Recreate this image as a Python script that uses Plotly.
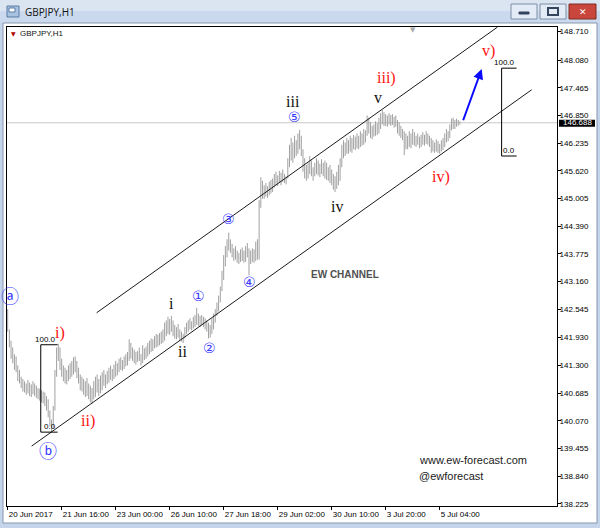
import plotly.graph_objects as go

# ---------------- data ----------------
bar_high = [
    142.55, 142.10, 141.85, 141.70, 141.55, 141.50, 141.30, 141.20, 141.05, 141.00,
    140.95, 140.90, 140.98, 140.92, 140.88, 140.95, 140.90, 140.85, 140.80, 140.78,
    140.75, 140.72, 140.70, 140.62, 140.55, 140.30, 140.10, 140.40, 141.20, 141.70,
    141.78, 141.70, 141.45, 141.30, 141.25, 141.20, 141.30, 141.35, 141.40, 141.48,
    141.50, 141.40, 141.25, 141.10, 141.05, 141.00, 140.95, 141.02, 140.90, 140.85,
    140.80, 140.95, 141.05, 141.10, 141.00, 141.08, 141.15, 141.20, 141.10, 141.18,
    141.25, 141.30, 141.22, 141.32, 141.40, 141.35, 141.45, 141.48, 141.42, 141.50,
    141.55, 141.60, 141.88, 141.80, 141.70, 141.65, 141.60, 141.62, 141.70, 141.55,
    141.75, 141.68, 141.72, 141.80, 141.85, 141.90, 141.88, 141.95, 142.00, 141.98,
    142.02, 142.05, 142.10, 142.25, 142.30, 142.38, 142.33, 142.40, 142.30, 142.20,
    142.15, 142.22, 142.10, 142.05, 142.00, 142.15, 142.25, 142.30, 142.35, 142.28,
    142.38, 142.42, 142.58, 142.45, 142.40, 142.42, 142.38, 142.35, 142.30, 142.25,
    142.20, 142.35, 142.45, 142.55, 142.70, 142.85, 143.05, 143.40, 143.75, 143.95,
    144.10, 144.25, 144.10, 144.00, 143.90, 143.95, 143.85, 143.80, 143.88, 143.92,
    143.85, 143.95, 144.02, 143.90, 143.85, 143.90, 143.88, 144.05, 144.10, 144.97,
    145.48, 145.40, 145.30, 145.35, 145.28, 145.38, 145.42, 145.45, 145.55, 145.60,
    145.52, 145.62, 145.58, 145.65, 145.55, 145.50, 145.90, 146.20, 146.35, 146.25,
    146.40, 146.30, 146.45, 146.53, 146.40, 146.10, 145.90, 145.75, 145.80, 145.95,
    145.85, 145.70, 145.80, 145.90, 145.85, 145.78, 145.88, 145.80, 145.85, 145.80,
    145.70, 145.75, 145.65, 145.55, 145.50, 145.60, 145.75, 145.90, 146.20, 146.30,
    146.25, 146.35, 146.30, 146.40, 146.35, 146.42, 146.38, 146.45, 146.40, 146.50,
    146.45, 146.55, 146.52, 146.85, 146.80, 146.70, 146.62, 146.65, 146.72, 146.68,
    146.80, 146.90, 146.97, 146.92, 146.88, 146.85, 146.90, 146.86, 146.88, 146.82,
    146.85, 146.75, 146.70, 146.62, 146.55, 146.50, 146.45, 146.40, 146.50, 146.45,
    146.55, 146.48, 146.40, 146.45, 146.38, 146.42, 146.48, 146.42, 146.50, 146.45,
    146.40, 146.35, 146.30, 146.25, 146.32, 146.28, 146.22, 146.30, 146.35, 146.45,
    146.55, 146.50, 146.65, 146.78, 146.80, 146.75, 146.78, 146.75, 146.72,
]
bar_low = [
    142.05, 141.70, 141.45, 141.35, 141.20, 141.15, 140.95, 140.90, 140.80, 140.72,
    140.70, 140.65, 140.68, 140.62, 140.60, 140.66, 140.62, 140.58, 140.55, 140.52,
    140.48, 140.46, 140.40, 140.30, 140.15, 139.95, 139.82, 139.90, 140.30, 141.05,
    141.40, 141.20, 141.05, 140.95, 140.90, 140.88, 140.95, 141.00, 141.05, 141.10,
    141.15, 141.02, 140.90, 140.75, 140.72, 140.65, 140.60, 140.62, 140.55, 140.48,
    140.45, 140.55, 140.60, 140.70, 140.62, 140.68, 140.75, 140.85, 140.80, 140.88,
    140.92, 140.98, 140.95, 141.00, 141.05, 141.08, 141.15, 141.20, 141.18, 141.22,
    141.28, 141.30, 141.40, 141.45, 141.40, 141.35, 141.32, 141.38, 141.40, 141.30,
    141.35, 141.42, 141.45, 141.50, 141.55, 141.60, 141.62, 141.68, 141.70, 141.72,
    141.75, 141.78, 141.80, 141.85, 141.95, 142.00, 141.98, 142.05, 141.95, 141.90,
    141.88, 141.92, 141.85, 141.83, 141.80, 141.90, 142.00, 142.05, 142.10, 142.08,
    142.12, 142.15, 142.20, 142.18, 142.15, 142.20, 142.15, 142.10, 142.05, 141.90,
    141.92, 142.00, 142.10, 142.25, 142.40, 142.50, 142.70, 142.95, 143.20, 143.50,
    143.70, 143.85, 143.80, 143.70, 143.62, 143.65, 143.58, 143.55, 143.60, 143.62,
    143.58, 143.60, 143.70, 143.30, 143.55, 143.60, 143.58, 143.62, 143.65, 143.65,
    144.80, 145.00, 145.00, 145.05, 145.02, 145.08, 145.12, 145.15, 145.25, 145.30,
    145.28, 145.35, 145.30, 145.38, 145.35, 145.32, 145.45, 145.70, 145.85, 145.80,
    145.90, 145.95, 146.00, 146.10, 145.95, 145.60, 145.45, 145.40, 145.45, 145.55,
    145.50, 145.40, 145.50, 145.55, 145.52, 145.48, 145.55, 145.50, 145.45, 145.42,
    145.40, 145.35, 145.30, 145.20, 145.15, 145.22, 145.30, 145.40, 145.70, 145.90,
    145.95, 146.00, 146.00, 146.05, 146.02, 146.10, 146.08, 146.12, 146.10, 146.15,
    146.18, 146.20, 146.25, 146.40, 146.45, 146.35, 146.32, 146.38, 146.40, 146.42,
    146.45, 146.55, 146.65, 146.62, 146.62, 146.60, 146.65, 146.62, 146.64, 146.58,
    146.60, 146.45, 146.40, 146.35, 146.30, 145.97, 146.10, 146.10, 146.15, 146.12,
    146.20, 146.18, 146.15, 146.20, 146.12, 146.15, 146.20, 146.18, 146.22, 146.20,
    146.15, 146.02, 146.05, 146.02, 146.05, 146.02, 146.00, 146.05, 146.08, 146.15,
    146.25, 146.28, 146.35, 146.52, 146.55, 146.55, 146.60, 146.62, 146.65,
]
last_price = 146.688

y_tick_vals = [148.710, 148.080, 147.465, 146.850, 146.235, 145.620, 145.005, 144.390,
               143.775, 143.160, 142.545, 141.930, 141.300, 140.685, 140.070, 139.455,
               138.840, 138.225]
x_tick_bars = [0, 32, 64, 96, 128, 160, 192, 224, 256]
x_tick_text = ["20 Jun 2017", "21 Jun 16:00", "23 Jun 00:00", "26 Jun 10:00",
               "27 Jun 18:00", "29 Jun 02:00", "30 Jun 10:00", "3 Jul 20:00", "5 Jul 04:00"]

# channel lines: (bar, price) end points
lower_channel = [(14.2, 139.51), (310.5, 147.42)]
upper_channel = [(52.7, 142.47), (290.2, 148.81)]
# fibonacci boxes: bars span, levels (0.0, 100.0)
fib_left_bars = [19.6, 29.6]
fib_left_levels = [139.82, 141.76]
fib_right_bars = [292.7, 301.6]
fib_right_levels = [145.95, 147.90]
# projection arrow: start/end (bar, price)
arrow_from = (269.6, 146.71)
arrow_to = (280.9, 147.88)

# wave labels (text, bar, price, kind)
wave_labels = [
    ("ⓐ", 1.1, 142.82, "bluebig"),
    ("ⓑ", 23.7, 139.40, "bluebig"),
    ("i)", 30.8, 142.02, "red"),
    ("ii)", 47.4, 140.07, "red"),
    ("i", 97.2, 142.68, "black"),
    ("ii", 103.7, 141.62, "black"),
    ("①", 113.2, 142.84, "blue"),
    ("②", 119.7, 141.69, "blue"),
    ("③", 131.0, 144.55, "blue"),
    ("④", 143.4, 143.15, "blue"),
    ("⑤", 170.1, 146.82, "blue"),
    ("iii", 168.9, 147.17, "black"),
    ("iv", 195.0, 144.84, "black"),
    ("v", 219.3, 147.26, "black"),
    ("iii)", 224.6, 147.68, "red"),
    ("iv)", 256.6, 145.48, "red"),
    ("v)", 285.0, 148.28, "red"),
]

# ---------------- geometry helpers (chrome only) ----------------
W, H = 600, 528
PL, PR, PT, PB = 7, 557, 27, 506


def px(xp):
    return (xp - PL) / (PR - PL)


def py(yp):
    return (PB - yp) / (PB - PT)


fig = go.Figure()

# price bars as vertical high-low segments
xs, ys = [], []
for i, (h, l) in enumerate(zip(bar_high, bar_low)):
    xs += [i, i, None]
    ys += [l, h, None]
fig.add_trace(go.Scatter(x=xs, y=ys, mode="lines",
                         line=dict(color="#a0a0a0", width=1),
                         hoverinfo="skip", showlegend=False))

shapes = []
# window chrome
shapes.append(dict(type="rect", xref="paper", yref="paper", x0=px(0), x1=px(W), y0=py(0), y1=py(11),
                   fillcolor="#dbe5f2", line=dict(width=0), layer="below"))
shapes.append(dict(type="rect", xref="paper", yref="paper", x0=px(0), x1=px(W), y0=py(11), y1=py(23),
                   fillcolor="#cad9ed", line=dict(width=0), layer="below"))
shapes.append(dict(type="rect", xref="paper", yref="paper", x0=px(3), x1=px(597), y0=py(23), y1=py(523),
                   fillcolor="white", line=dict(color="#8797ad", width=1), layer="below"))
# icon
shapes.append(dict(type="rect", xref="paper", yref="paper", x0=px(7), x1=px(19), y0=py(6), y1=py(17),
                   fillcolor="#a9c2e0", line=dict(color="#5a7aa5", width=1)))
shapes.append(dict(type="rect", xref="paper", yref="paper", x0=px(9), x1=px(15), y0=py(8), y1=py(12),
                   fillcolor="#ffffff", line=dict(color="#5a7aa5", width=1)))
# buttons
for x0, x1, fill, edge in [(511, 537, "#e3ebf6", "#7d8ea6"), (540, 566, "#e3ebf6", "#7d8ea6"),
                           (569, 596, "#c8463b", "#7f2a22")]:
    shapes.append(dict(type="rect", xref="paper", yref="paper", x0=px(x0), x1=px(x1), y0=py(4), y1=py(19),
                       fillcolor=fill, line=dict(color=edge, width=1)))
shapes.append(dict(type="rect", xref="paper", yref="paper", x0=px(519), x1=px(529), y0=py(12), y1=py(14),
                   fillcolor="#34455e", line=dict(color="#34455e", width=1)))
shapes.append(dict(type="rect", xref="paper", yref="paper", x0=px(548), x1=px(558), y0=py(8), y1=py(15),
                   fillcolor="rgba(0,0,0,0)", line=dict(color="#34455e", width=2)))

# current price line
shapes.append(dict(type="line", xref="paper", yref="y", x0=0, x1=1, y0=last_price, y1=last_price,
                   line=dict(color="#c8c8c8", width=1), layer="below"))
# price label box
shapes.append(dict(type="rect", xref="paper", yref="y", x0=px(559), x1=px(595),
                   y0=last_price - 0.09, y1=last_price + 0.068,
                   fillcolor="black", line=dict(width=0)))

# channel lines
for (a, b) in [lower_channel, upper_channel]:
    shapes.append(dict(type="line", xref="x", yref="y", x0=a[0], y0=a[1], x1=b[0], y1=b[1],
                       line=dict(color="#1a1a1a", width=1)))

# fib boxes
for bars, levels in [(fib_left_bars, fib_left_levels), (fib_right_bars, fib_right_levels)]:
    shapes.append(dict(type="line", xref="x", yref="y", x0=bars[0], x1=bars[0], y0=levels[0], y1=levels[1],
                       line=dict(color="black", width=1)))
    for lv in levels:
        shapes.append(dict(type="line", xref="x", yref="y", x0=bars[0], x1=bars[1], y0=lv, y1=lv,
                           line=dict(color="black", width=1)))

annotations = []
# title
annotations.append(dict(x=px(23), y=py(11.5), xref="paper", yref="paper", text="GBPJPY,H1",
                        showarrow=False, xanchor="left", yanchor="middle",
                        font=dict(family="Open Sans", size=10, color="#111111")))
annotations.append(dict(x=px(582.5), y=py(11.5), xref="paper", yref="paper", text="<b>✕</b>",
                        showarrow=False, xanchor="center", yanchor="middle",
                        font=dict(family="DejaVu Sans", size=9, color="white")))
# symbol label inside chart
annotations.append(dict(x=px(9), y=py(33), xref="paper", yref="paper", text="▼",
                        showarrow=False, xanchor="left", yanchor="middle",
                        font=dict(family="DejaVu Sans", size=6, color="#b00000")))
annotations.append(dict(x=px(18), y=py(33), xref="paper", yref="paper", text="GBPJPY,H1",
                        showarrow=False, xanchor="left", yanchor="middle",
                        font=dict(family="Liberation Sans", size=8, color="#111111")))
# chart shift marker
annotations.append(dict(x=px(413), y=py(30), xref="paper", yref="paper", text="▼",
                        showarrow=False, xanchor="center", yanchor="middle",
                        font=dict(family="DejaVu Sans", size=7, color="#a8a8a8")))
# current price label
annotations.append(dict(x=px(577), y=last_price, xref="paper", yref="y", text=f"{last_price:.3f}",
                        showarrow=False, xanchor="center", yanchor="middle", yshift=0.5,
                        font=dict(family="Liberation Sans", size=8, color="white")))

# fib texts
for bars, levels in [(fib_left_bars, fib_left_levels), (fib_right_bars, fib_right_levels)]:
    for lv, t in zip(levels, ["0.0", "100.0"]):
        annotations.append(dict(x=bars[1], y=lv, xref="x", yref="y", text=t, showarrow=False,
                                xanchor="right", yanchor="bottom", yshift=-1,
                                font=dict(family="Liberation Sans", size=8, color="black")))

# arrow
annotations.append(dict(x=arrow_to[0], y=arrow_to[1], ax=arrow_from[0], ay=arrow_from[1],
                        xref="x", yref="y", axref="x", ayref="y", text="", showarrow=True,
                        arrowhead=2, arrowsize=1, arrowwidth=2, arrowcolor="#0a0aff"))

styles = {
    "red": dict(family="Liberation Serif", size=16, color="#ff1010"),
    "black": dict(family="Liberation Serif", size=16, color="#111111"),
    "blue": dict(family="DejaVu Sans, Noto Sans CJK SC", size=14, color="#3b3bff"),
    "bluebig": dict(family="DejaVu Sans, Noto Sans CJK SC", size=18, color="#3b3bff"),
}
for t, b, p, kind in wave_labels:
    annotations.append(dict(x=b, y=p, xref="x", yref="y", text=t, showarrow=False,
                            xanchor="center", yanchor="middle", font=styles[kind]))

annotations.append(dict(x=199.7, y=143.31, xref="x", yref="y", text="<b>EW CHANNEL</b>", showarrow=False,
                        xanchor="center", yanchor="middle",
                        font=dict(family="Liberation Sans", size=10, color="#505050")))
annotations.append(dict(x=px(417), y=py(460), xref="paper", yref="paper", text="www.ew-forecast.com",
                        showarrow=False, xanchor="left", yanchor="middle",
                        font=dict(family="Liberation Sans", size=11, color="#1a1a1a")))
annotations.append(dict(x=px(417), y=py(476), xref="paper", yref="paper", text="@ewforecast",
                        showarrow=False, xanchor="left", yanchor="middle",
                        font=dict(family="Liberation Sans", size=11, color="#1a1a1a")))

y_range = [138.18, 148.814]
x_range = [-0.4, -0.4 + (PR - PL) / 1.6875]

fig.update_layout(
    width=W, height=H,
    margin=dict(l=PL, r=W - PR, t=PT, b=H - PB, pad=0, autoexpand=False),
    paper_bgcolor="#c4d4ea",
    plot_bgcolor="white",
    shapes=shapes,
    annotations=annotations,
    showlegend=False,
    xaxis=dict(range=x_range, showgrid=False, zeroline=False, automargin=False,
               showline=True, linecolor="black", linewidth=1, mirror=True,
               tickmode="array", tickvals=x_tick_bars, ticktext=x_tick_text,
               ticks="outside", ticklen=3, tickcolor="black", tickangle=0,
               ticklabelposition="outside right",
               tickfont=dict(family="Liberation Sans", size=8, color="black")),
    yaxis=dict(range=y_range, side="right", showgrid=False, zeroline=False, automargin=False,
               showline=True, linecolor="black", linewidth=1, mirror=True,
               tickmode="array", tickvals=y_tick_vals,
               ticktext=[f"{v:.3f}" for v in y_tick_vals],
               ticks="outside", ticklen=3, tickcolor="black", ticklabelstandoff=-3,
               tickfont=dict(family="Liberation Sans", size=8, color="black")),
)

fig.write_html("out.html", config={"displayModeBar": False},
               post_script="document.body.style.margin='0';document.body.style.overflow='hidden';")
